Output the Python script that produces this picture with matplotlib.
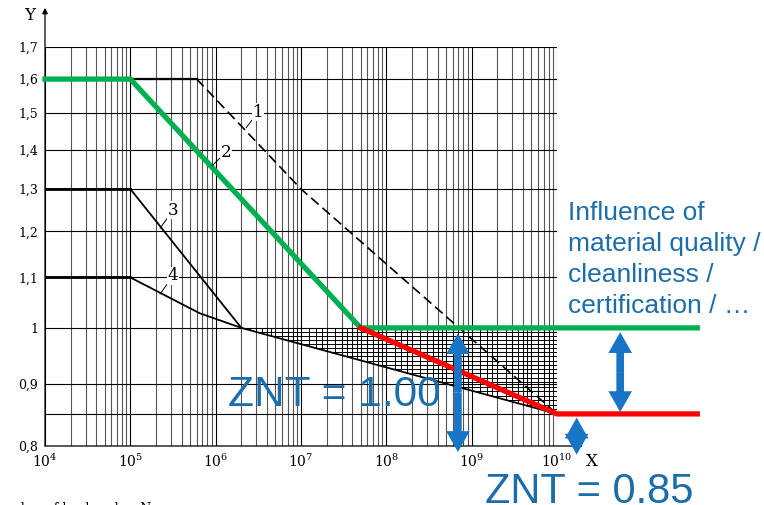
import numpy as np
import matplotlib.pyplot as plt
from matplotlib.patches import Polygon
from matplotlib.ticker import NullLocator

# curves of the diagram (number of load cycles N, life factor Y)
curve1_n = [1e4, 6e5, 1e7, 1e10]
curve1_y = [1.6, 1.6, 1.3, 0.85]
curve3_n = [1e4, 1e5, 2e6]
curve3_y = [1.3, 1.3, 1.0]
curve4_n = [1e4, 1e5, 6.5e5, 2e6]
curve4_y = [1.1, 1.1, 1.028, 1.0]
lower_n = [2e6, 1e10]
lower_y = [1.0, 0.85]

# highlighted curves, extended past the axes
green_n = [1e4, 1e5, 5e7, 4.4e11]
green_y = [1.6, 1.6, 1.0, 1.0]
red_n = [5e7, 1e10, 4.4e11]
red_y = [1.0, 0.85, 0.85]

# hatched (optional) region
hatch_n = [2e6, 1e10, 1e10]
hatch_y = [1.0, 1.0, 0.85]

y_ticks = [0.8, 0.9, 1.0, 1.1, 1.2, 1.3, 1.4, 1.5, 1.6, 1.7]
y_labels = ['0,8', '0,9', '1', '1,1', '1,2', '1,3', '1,4', '1,5', '1,6', '1,7']
y_grid = [0.8, 0.85, 0.9, 1.0, 1.1, 1.2, 1.3, 1.4, 1.5, 1.6, 1.7]
x_ticks = [1e4, 1e5, 1e6, 1e7, 1e8, 1e9, 1e10]
x_labels = ['$10^{4}$', '$10^{5}$', '$10^{6}$', '$10^{7}$', '$10^{8}$', '$10^{9}$', '$10^{10}$']

# curve labels: (text, point on curve, label position)
curve_labels = [('1', (2.27e6, 1.459), (3.13e6, 1.503)),
                ('2', (9.06e5, 1.358), (1.32e6, 1.394)),
                ('3', (2.23e5, 1.207), (3.16e5, 1.249)),
                ('4', (2.23e5, 1.066), (3.16e5, 1.103))]

# blue double arrows: (N, top, bottom)
arrows = [(6.9e8, 0.990, 0.791),
          (5.5e10, 0.992, 0.853),
          (1.7e10, 0.844, 0.787)]

text_blue = '#1c6eaa'
arrow_blue = '#1874c4'
serif = 'DejaVu Serif'
plt.rcParams['mathtext.fontset'] = 'dejavuserif'

fig = plt.figure(figsize=(7.64, 5.05), dpi=100)
ax = fig.add_axes([45 / 764, 1 - 446 / 505, 512 / 764, 399 / 505])
ax.set_xscale('log')
ax.set_yscale('log')
ax.set_xlim(1e4, 1e10)
ax.set_ylim(0.8, 1.7)
for s in ax.spines.values():
    s.set_visible(False)

ax.set_yticks(y_ticks)
ax.set_yticklabels(y_labels, fontfamily=serif, fontsize=9)
ax.set_xticks(x_ticks)
ax.set_xticklabels(x_labels, fontsize=10)
ax.xaxis.set_minor_locator(NullLocator())
ax.yaxis.set_minor_locator(NullLocator())
ax.tick_params(length=0, pad=5)

# grid
for d in range(4, 10):
    for k in range(1, 10):
        ax.axvline(k * 10.0 ** d, color='k' if k == 1 else '#555555', lw=0.8, zorder=1)
ax.axvline(1e10, color='k', lw=0.8, zorder=1)
for y in y_grid:
    ax.axhline(y, color='k', lw=0.8, zorder=1)

# axis arrows
ax.annotate('', xy=(0, 1.098), xytext=(0, 0), xycoords='axes fraction',
            arrowprops=dict(arrowstyle='-|>', lw=0.9, color='k', mutation_scale=8, shrinkA=0, shrinkB=0))
ax.annotate('', xy=(1.05, 0), xytext=(0, 0), xycoords='axes fraction',
            arrowprops=dict(arrowstyle='-|>', lw=0.9, color='k', mutation_scale=8, shrinkA=0, shrinkB=0))
fig.text(30 / 764, 1 - 16 / 505, 'Y', ha='center', va='center', fontsize=12, family=serif)
fig.text(592 / 764, 1 - 462 / 505, 'X', ha='center', va='center', fontsize=12, family=serif)

# hatched region
poly = Polygon(list(zip(hatch_n, hatch_y)), closed=True, fill=False, lw=0)
ax.add_patch(poly)
hx = []
for d in range(6, 10):
    for k in [1, 1.25, 1.5, 1.75, 2, 2.5, 3, 3.5, 4, 4.5, 5, 6, 7, 8, 9]:
        hx.append(k * 10.0 ** d)
hy = np.arange(0.85, 1.0, 0.0075)
vl = ax.vlines(hx, 0.85, 1.0, color='k', lw=0.7, zorder=1.5)
hl = ax.hlines(hy, 2e6, 1e10, color='k', lw=0.7, zorder=1.5)
vl.set_clip_path(poly)
hl.set_clip_path(poly)

# black curves
ax.plot(curve1_n[:2], curve1_y[:2], color='k', lw=1.6, zorder=3)
ax.plot(curve1_n[1:], curve1_y[1:], color='k', lw=1.2, ls=(0, (6, 3)), zorder=3)
ax.plot(curve3_n, curve3_y, color='k', lw=1.3, zorder=3)
ax.plot(curve4_n, curve4_y, color='k', lw=1.3, zorder=3)
ax.plot(curve3_n[:2], curve3_y[:2], color='k', lw=2, zorder=3)
ax.plot(curve4_n[:2], curve4_y[:2], color='k', lw=2, zorder=3)
ax.plot(lower_n, lower_y, color='k', lw=1.3, zorder=3)

# highlighted curves
ax.plot(green_n, green_y, color='#00b050', lw=3.8, zorder=4, clip_on=False, solid_joinstyle='miter')
ax.plot(red_n, red_y, color='#ff0000', lw=3.8, zorder=4, clip_on=False, solid_joinstyle='miter')

for txt, pt, pos in curve_labels:
    ax.annotate(txt, xy=pt, xytext=pos, ha='center', va='center', fontsize=12, family=serif,
                bbox=dict(fc='white', ec='none', pad=0.5),
                arrowprops=dict(arrowstyle='-', lw=0.7, color='k', shrinkA=0, shrinkB=0), zorder=5)

# double arrows drawn as two single arrows from the middle
for n, top, bottom in arrows:
    mid = np.sqrt(top * bottom)
    for end in (top, bottom):
        ax.annotate('', xy=(n, end), xytext=(n, mid), annotation_clip=False,
                    arrowprops=dict(width=5.5, headwidth=17, headlength=15, color=arrow_blue,
                                    lw=0, shrink=0), zorder=6)

fig.text(568 / 764, 1 - 201 / 505, 'Influence of\nmaterial quality /\ncleanliness /\ncertification / \u2026',
         ha='left', va='top', fontsize=19, color=text_blue, family='Liberation Sans', linespacing=1.37)
fig.text(228 / 764, 1 - 406 / 505, 'ZNT = 1.00', ha='left', va='baseline', fontsize=30.5,
         color=text_blue, family='Liberation Sans', zorder=7)
fig.text(485 / 764, 1 - 503 / 505, 'ZNT = 0.85', ha='left', va='baseline', fontsize=30,
         color=text_blue, family='Liberation Sans')
fig.text(-7 / 764, 3 / 505, 'number of load cycles, N', ha='left', va='top', fontsize=9, family=serif)

fig.savefig('out.png', dpi=100)
